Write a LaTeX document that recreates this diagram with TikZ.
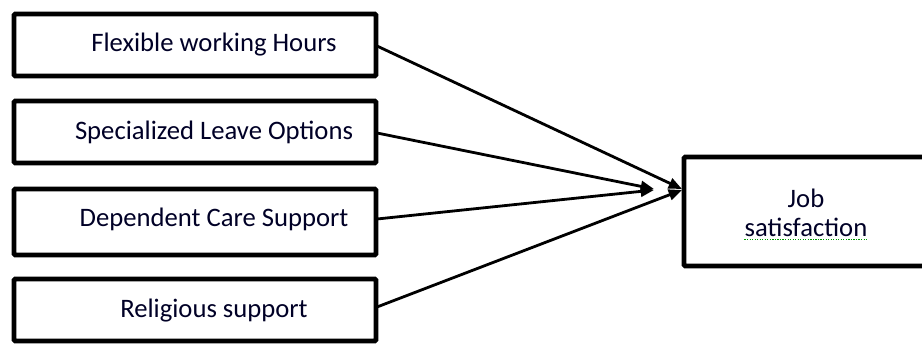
\documentclass[tikz,border=0pt]{standalone}
\usepackage{fontspec}
\setmainfont{Carlito}
\usetikzlibrary{arrows.meta}
\begin{document}
\begin{tikzpicture}[x=0.75pt,y=-0.75pt,
  box/.style={draw=black,line width=3.4pt,rounded corners=0.8pt},
  lbl/.style={font=\fontsize{20}{24}\selectfont,text=black!85!blue,inner sep=0pt},
  arr/.style={line width=2.1pt,-{Triangle[length=10pt,width=8pt]}}]
\useasboundingbox (0,0) rectangle (922,345);
\clip (0,0) rectangle (922,345);
\draw[box] (14,14) rectangle (376,76);
\draw[box] (14,101) rectangle (376,163);
\draw[box] (14,189) rectangle (376,255);
\draw[box] (14,279) rectangle (376,341);
\draw[box] (684,157) rectangle (930,266);
\node[lbl] (t1) at (214,45) {Flexible working Hours};
\node[lbl] (t2) at (214,132) {Specialized Leave Options};
\node[lbl] (t3) at (214,219) {Dependent Care Support};
\node[lbl] (t4) at (214,311) {Religious support};
\node[lbl] (j1) at (806,198) {Job};
\node[lbl] (j2) at (806,227) {satisfaction};
\draw[green!60!black,densely dotted,line width=0.9pt] ([yshift=-2pt]j2.south west) -- ([yshift=-2pt]j2.south east);
\coordinate (s1) at (377,46);
\coordinate (s2) at (377,133);
\coordinate (s3) at (377,219);
\coordinate (s4) at (377,307);
\coordinate (e1) at (682,189);
\coordinate (e2) at (654,189);
\coordinate (e3) at (654,190);
\coordinate (e4) at (682,190);
\draw[arr] (s1) -- (e1);
\draw[arr] (s2) -- (e2);
\draw[arr] (s3) -- (e3);
\draw[arr] (s4) -- (e4);
\end{tikzpicture}
\end{document}
